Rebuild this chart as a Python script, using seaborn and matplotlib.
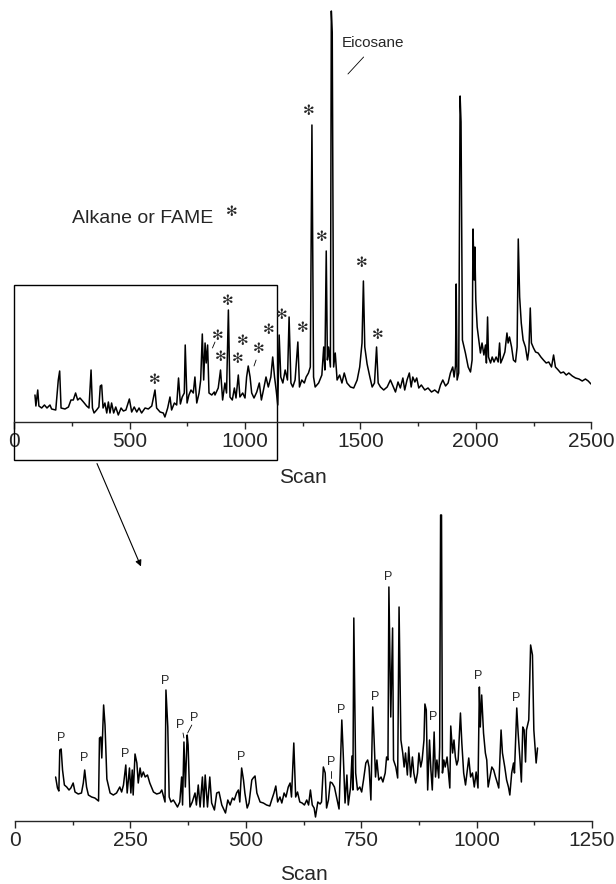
import matplotlib
matplotlib.use("Agg")
import matplotlib.pyplot as plt
import seaborn as sns
import pandas as pd
from matplotlib.patches import Rectangle
from matplotlib.ticker import MultipleLocator

sns.set_style("ticks")
plt.rcParams['font.family'] = ['Liberation Sans', 'DejaVu Sans']

# full run, scans 0-2500 (signal, arbitrary units)
full_scan = [90, 94, 102, 107, 119, 131, 142, 155, 162, 180, 191, 197, 203, 220, 235, 246, 256, 266, 275, 285,
             300, 314, 324, 333, 339, 346, 357, 367, 373, 379, 385, 393, 401, 408, 415, 422, 431, 440, 451, 463,
             473, 484, 499, 509, 520, 531, 541, 552, 567, 581, 596, 610, 617, 632, 646, 653, 665, 675, 682, 694,
             704, 712, 720, 728, 737, 741, 749, 757, 766, 776, 783, 791, 801, 808, 815, 821, 827, 832, 838, 844,
             856, 867, 870, 884, 894, 903, 913, 920, 928, 935, 945, 954, 961, 971, 978, 990, 1000, 1007, 1014, 1022,
             1029, 1039, 1051, 1062, 1071, 1080, 1091, 1101, 1112, 1120, 1128, 1135, 1142, 1148, 1155, 1164, 1174, 1184, 1191, 1199,
             1207, 1217, 1229, 1236, 1246, 1257, 1265, 1275, 1283, 1290, 1297, 1304, 1319, 1333, 1341, 1346, 1352, 1357, 1362, 1370,
             1374, 1378, 1384, 1391, 1399, 1410, 1420, 1430, 1442, 1457, 1471, 1486, 1497, 1507, 1513, 1519, 1529, 1541, 1551, 1561,
             1570, 1577, 1587, 1601, 1616, 1630, 1645, 1652, 1663, 1673, 1684, 1692, 1702, 1712, 1720, 1727, 1736, 1744, 1753, 1764,
             1779, 1793, 1808, 1822, 1837, 1847, 1857, 1869, 1880, 1890, 1900, 1906, 1912, 1915, 1919, 1926, 1932, 1936, 1942, 1955,
             1967, 1977, 1984, 1988, 1993, 1996, 2000, 2006, 2013, 2020, 2027, 2035, 2042, 2046, 2051, 2055, 2064, 2071, 2079, 2088,
             2097, 2103, 2108, 2117, 2126, 2135, 2140, 2146, 2155, 2163, 2172, 2179, 2184, 2190, 2197, 2205, 2215, 2224, 2230, 2236,
             2241, 2250, 2259, 2270, 2282, 2293, 2305, 2316, 2328, 2337, 2345, 2357, 2368, 2380, 2392, 2403, 2418, 2432, 2447, 2461,
             2475, 2487, 2499]
full_signal = [27, 16, 32, 16, 14, 17, 14, 17, 13, 12, 42, 51, 14, 13, 15, 22, 22, 29, 22, 24,
               20, 16, 14, 52, 14, 9, 12, 15, 36, 37, 14, 19, 9, 20, 9, 19, 9, 15, 7, 14,
               11, 12, 23, 10, 15, 10, 14, 9, 14, 13, 16, 32, 14, 10, 9, 5, 14, 25, 12, 19,
               17, 44, 18, 25, 29, 77, 19, 27, 32, 29, 45, 19, 29, 42, 88, 42, 79, 59, 77, 29,
               27, 30, 27, 34, 52, 22, 39, 29, 112, 25, 22, 34, 24, 47, 25, 29, 24, 45, 56, 45,
               29, 24, 30, 39, 22, 32, 45, 35, 45, 65, 45, 32, 17, 87, 45, 39, 52, 42, 105, 39,
               35, 42, 80, 35, 42, 39, 45, 49, 55, 297, 45, 35, 39, 47, 75, 52, 171, 62, 75, 55,
               411, 389, 55, 69, 42, 47, 39, 49, 39, 35, 34, 42, 55, 79, 141, 75, 58, 45, 35, 39,
               75, 39, 35, 32, 35, 42, 34, 30, 40, 34, 44, 32, 42, 49, 35, 45, 40, 44, 34, 37,
               32, 34, 30, 32, 29, 37, 42, 36, 39, 49, 55, 45, 56, 138, 42, 49, 326, 300, 82, 69,
               55, 50, 62, 193, 142, 175, 122, 95, 82, 69, 79, 67, 77, 59, 105, 65, 59, 65, 60, 65,
               60, 79, 59, 64, 70, 89, 79, 85, 75, 62, 60, 75, 183, 125, 99, 82, 75, 62, 72, 114,
               79, 74, 70, 69, 65, 62, 59, 60, 55, 67, 55, 52, 49, 50, 47, 49, 46, 44, 43, 41,
               43, 41, 38]

# expanded view, scans 88-1135
zoom_scan = [88, 92, 95, 97, 100, 103, 107, 112, 117, 121, 126, 130, 137, 144, 148, 151, 155, 159, 166, 173,
             181, 183, 186, 188, 192, 195, 199, 206, 213, 220, 227, 231, 235, 240, 243, 248, 251, 254, 256, 260,
             264, 267, 271, 274, 278, 282, 287, 292, 300, 307, 314, 318, 321, 325, 327, 331, 334, 338, 343, 347,
             352, 357, 361, 363, 366, 369, 373, 375, 379, 384, 390, 393, 397, 401, 406, 409, 412, 417, 422, 426,
             432, 437, 442, 448, 453, 456, 461, 466, 471, 475, 480, 484, 487, 491, 495, 498, 503, 507, 513, 516,
             520, 524, 531, 538, 545, 552, 556, 561, 565, 569, 574, 578, 583, 587, 592, 596, 599, 604, 608, 612,
             617, 622, 627, 632, 636, 640, 644, 648, 651, 656, 661, 664, 668, 672, 675, 679, 683, 687, 692, 697,
             702, 708, 711, 715, 719, 722, 727, 730, 732, 734, 738, 742, 747, 751, 755, 760, 764, 767, 771, 775,
             778, 781, 784, 788, 793, 797, 802, 805, 808, 810, 814, 818, 820, 825, 829, 832, 836, 840, 843, 846,
             850, 853, 857, 861, 864, 868, 872, 875, 879, 882, 886, 888, 891, 894, 898, 901, 904, 908, 911, 914,
             918, 920, 922, 924, 926, 929, 932, 936, 939, 942, 944, 948, 951, 954, 957, 960, 965, 968, 972, 976,
             980, 983, 987, 991, 995, 999, 1003, 1006, 1008, 1011, 1015, 1019, 1022, 1025, 1029, 1033, 1037, 1041, 1045, 1048,
             1053, 1056, 1061, 1065, 1069, 1072, 1076, 1080, 1082, 1087, 1090, 1094, 1097, 1100, 1103, 1106, 1108, 1113, 1117, 1121,
             1124, 1129, 1132]
zoom_signal = [44, 33, 30, 71, 72, 51, 36, 34, 31, 33, 38, 29, 27, 28, 38, 51, 34, 26, 24, 23,
               20, 83, 84, 63, 116, 96, 42, 28, 26, 28, 34, 29, 36, 56, 28, 53, 28, 51, 26, 67,
               58, 38, 53, 44, 49, 44, 46, 38, 29, 27, 28, 31, 26, 19, 131, 94, 24, 19, 21, 18,
               14, 19, 44, 16, 79, 34, 86, 76, 14, 19, 28, 16, 36, 14, 44, 14, 46, 14, 44, 18,
               11, 28, 29, 16, 11, 8, 21, 16, 23, 21, 28, 31, 19, 53, 41, 28, 13, 18, 41, 43,
               45, 28, 19, 18, 16, 15, 21, 28, 35, 19, 24, 18, 28, 24, 34, 38, 24, 78, 24, 29,
               19, 18, 16, 21, 16, 31, 16, 13, 4, 19, 17, 19, 54, 48, 13, 21, 39, 38, 34, 23,
               12, 101, 68, 18, 46, 16, 34, 65, 31, 203, 48, 31, 34, 29, 41, 58, 61, 54, 21, 114,
               81, 44, 61, 41, 44, 39, 48, 64, 61, 234, 104, 193, 61, 54, 43, 214, 81, 68, 54, 68,
               46, 74, 44, 64, 48, 38, 48, 68, 54, 61, 81, 117, 111, 31, 81, 51, 31, 89, 44, 61,
               43, 74, 306, 306, 48, 61, 54, 64, 48, 33, 95, 68, 81, 64, 56, 61, 108, 78, 48, 36,
               51, 63, 44, 48, 34, 49, 33, 134, 94, 126, 88, 68, 61, 34, 44, 54, 51, 44, 38, 33,
               91, 68, 54, 41, 34, 26, 48, 58, 48, 113, 88, 61, 39, 94, 91, 59, 91, 101, 176, 166,
               91, 58, 73]

# "Alkane or FAME" marks on the full run
star_scan = [607, 880, 894, 925, 968, 990, 1058, 1101, 1158, 1251, 1277, 1333, 1507, 1577]
star_height = [42, 86, 65, 121, 63, 81, 73, 92, 107, 94, 311, 185, 159, 87]

# "P" marks on the expanded view
p_scan = [100, 150, 238, 326, 357, 388, 490, 684, 706, 780, 808, 906, 1004, 1085]
p_height = [83, 63, 67, 140, 96, 103, 64, 59, 111, 124, 244, 104, 145, 123]

fig = plt.figure(figsize=(6.16, 8.84), dpi=100)
W, H = 616.0, 884.0
ax1 = fig.add_axes([14.2 / W, 1 - 422 / H, 577 / W, 422 / H])
ax2 = fig.add_axes([15 / W, 1 - 821 / H, 577 / W, 321 / H])

df_full = pd.DataFrame({'scan': full_scan, 'signal': full_signal})
df_zoom = pd.DataFrame({'scan': zoom_scan, 'signal': zoom_signal})
sns.lineplot(data=df_full, x='scan', y='signal', ax=ax1, color='black', lw=1.1,
             estimator=None, sort=False)
sns.lineplot(data=df_zoom, x='scan', y='signal', ax=ax2, color='black', lw=1.1,
             estimator=None, sort=False)

for ax, xmax, step, pad in [(ax1, 2500, 500, 12), (ax2, 1250, 250, 10.5)]:
    ax.set_facecolor('none')
    ax.set_xlim(0, xmax)
    ax.xaxis.set_major_locator(MultipleLocator(step))
    ax.xaxis.set_minor_locator(MultipleLocator(step / 2))
    ax.set_yticks([])
    ax.set_ylabel('')
    ax.set_xlabel('Scan', fontsize=15, labelpad=pad)
    ax.tick_params(axis='x', which='major', direction='out', length=5, width=1, labelsize=15, pad=2.5)
    ax.tick_params(axis='x', which='minor', direction='out', length=3, width=1)
    ax.spines['bottom'].set_linewidth(1)
    sns.despine(ax=ax, left=True)

ax1.set_ylim(0, 422)
ax2.set_ylim(0, 321)

for x, y in zip(star_scan, star_height):
    ax1.text(x, y, '\u273b', fontsize=10, ha='center', va='center', family=['DejaVu Sans'])
for (x0, y0), (x1, y1) in [((870, 80), (859, 74)), ((1048, 62), (1039, 56)), ((1514, 365), (1446, 348))]:
    ax1.plot([x0, x1], [y0, y1], color='black', lw=0.6)
ax1.text(1420, 379, 'Eicosane', fontsize=11, ha='left', va='center')
ax1.text(249, 199, 'Alkane or FAME', fontsize=14, ha='left', va='baseline')
ax1.text(944, 210, '\u273b', fontsize=10, ha='center', va='center', family=['DejaVu Sans'])

for x, y in zip(p_scan, p_height):
    ax2.text(x, y, 'P', fontsize=9, ha='center', va='center')
for (x0, y0), (x1, y1) in [((364, 88), (366, 83)), ((383, 96), (374, 88)), ((684, 50), (684, 43))]:
    ax2.plot([x0, x1], [y0, y1], color='black', lw=0.6)

# box round the expanded region and the arrow down to it
ax1.add_patch(Rectangle((0, -38), 1138, 175, fill=False, edgecolor='black', lw=1, clip_on=False))
ax1.annotate('', xy=(554, -147), xytext=(354, -39), xycoords='data',
             arrowprops=dict(arrowstyle='-|>', color='black', lw=0.8, mutation_scale=9),
             annotation_clip=False)

fig.savefig('out.png', dpi=100)
